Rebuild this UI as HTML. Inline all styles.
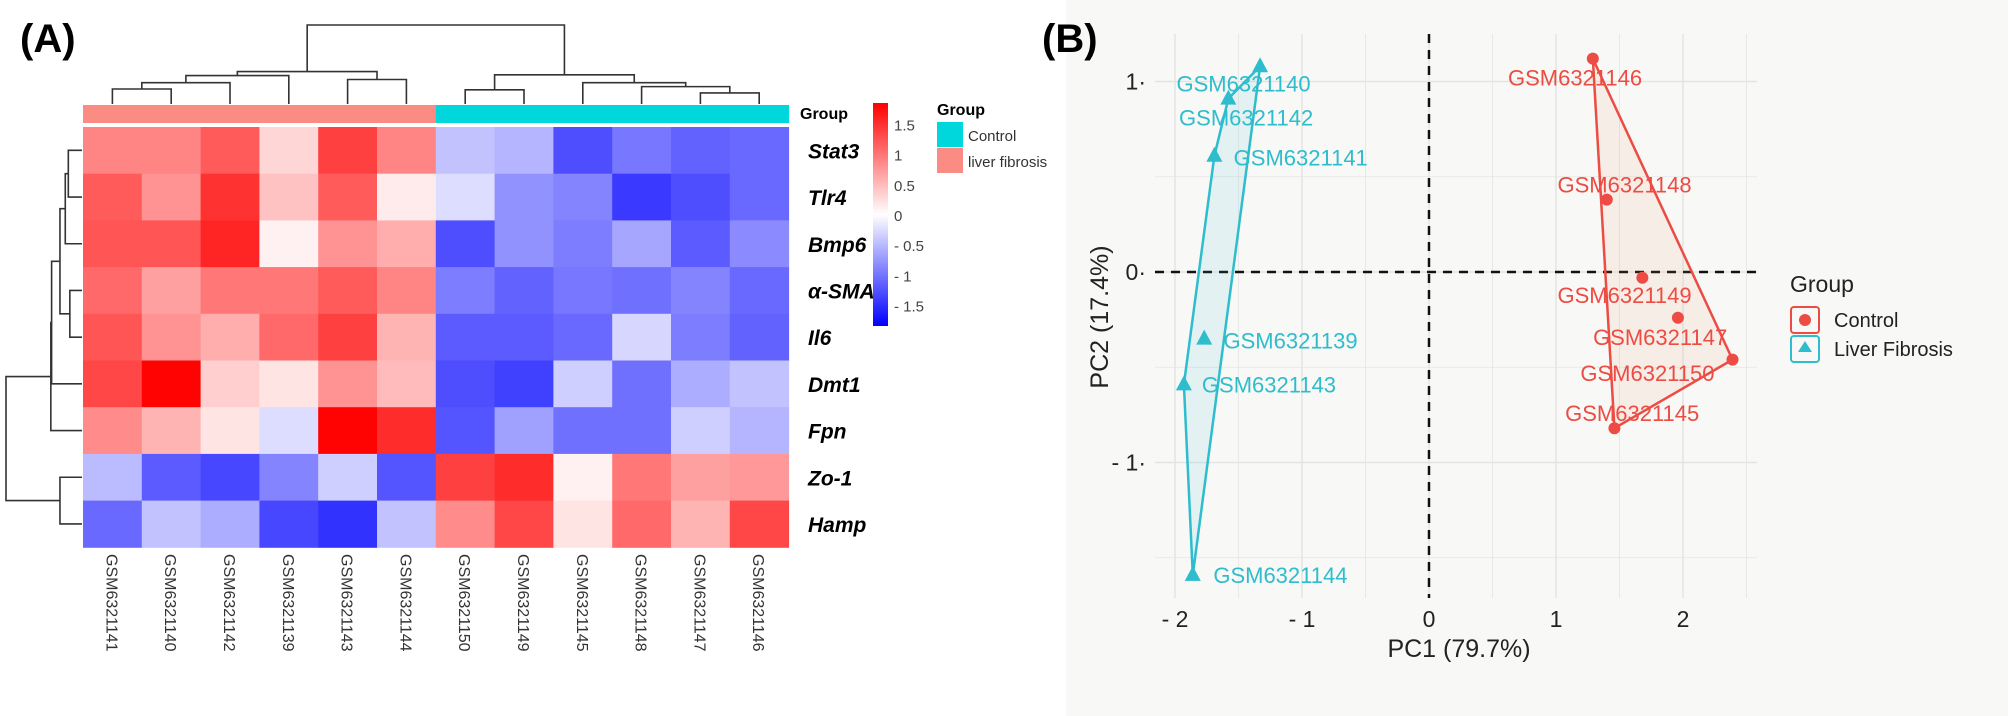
<!DOCTYPE html>
<html><head><meta charset="utf-8"><style>
html,body{margin:0;padding:0;background:#fff;width:2008px;height:716px;overflow:hidden}
svg{display:block;font-family:"Liberation Sans",sans-serif}
</style></head><body>
<svg id="fig" width="2008" height="716" viewBox="0 0 2008 716" xmlns="http://www.w3.org/2000/svg">
<rect x="1066" y="0" width="942" height="716" fill="#f8f8f6"/>
<text x="20" y="52" font-size="40" font-weight="bold">(A)</text>
<text x="1042" y="52" font-size="40" font-weight="bold">(B)</text>
<g id="heat"></g>
<g id="pca"></g>
</svg>
<script>
// ===== Heatmap data =====
const genes = ["Stat3","Tlr4","Bmp6","α-SMA","Il6","Dmt1","Fpn","Zo-1","Hamp"];
const samples = ["GSM6321141","GSM6321140","GSM6321142","GSM6321139","GSM6321143","GSM6321144","GSM6321150","GSM6321149","GSM6321145","GSM6321148","GSM6321147","GSM6321146"];
const sampleGroup = ["liver fibrosis","liver fibrosis","liver fibrosis","liver fibrosis","liver fibrosis","liver fibrosis","Control","Control","Control","Control","Control","Control"];
const rowStat3 = [0.9,0.9,1.2,0.3,1.4,0.9,-0.45,-0.55,-1.3,-1.0,-1.15,-1.1];
const rowTlr4  = [1.2,0.8,1.5,0.45,1.2,0.15,-0.25,-0.8,-0.9,-1.45,-1.3,-1.1];
const rowBmp6  = [1.25,1.25,1.6,0.1,0.8,0.6,-1.3,-0.8,-0.95,-0.65,-1.2,-0.85];
const rowSMA   = [1.1,0.7,1.0,1.0,1.2,0.9,-0.95,-1.15,-1.0,-1.05,-0.9,-1.1];
const rowIl6   = [1.25,0.8,0.6,1.1,1.4,0.55,-1.2,-1.2,-1.1,-0.3,-0.95,-1.15];
const rowDmt1  = [1.35,1.85,0.35,0.2,0.8,0.5,-1.3,-1.4,-0.35,-1.05,-0.6,-0.45];
const rowFpn   = [0.85,0.55,0.2,-0.25,1.85,1.55,-1.25,-0.7,-1.05,-1.05,-0.35,-0.55];
const rowZo1   = [-0.5,-1.2,-1.35,-0.9,-0.35,-1.25,1.4,1.55,0.1,1.0,0.7,0.75];
const rowHamp  = [-1.1,-0.45,-0.6,-1.35,-1.5,-0.45,0.85,1.35,0.2,1.1,0.55,1.35];
const colorTicks = [1.5,1,0.5,0,-0.5,-1,-1.5];
// column dendrogram merges: [left node, right node, height(0..1)]; leaves 0..11, internal 12+
const colMerges = [[0,1,0.19],[12,2,0.27],[10,11,0.14],[9,14,0.22],[8,15,0.27],[6,7,0.18],[17,16,0.37],[4,5,0.31],[13,3,0.36],[20,19,0.41],[21,18,1.0]];
// row dendrogram merges
const rowMerges = [[0,1,0.18],[9,2,0.22],[3,4,0.16],[10,11,0.29],[12,5,0.40],[13,6,0.41],[7,8,0.29],[14,15,1.0]];

const NS="http://www.w3.org/2000/svg";
function mk(tag,attrs,parent){const e=document.createElementNS(NS,tag);for(const k in attrs)e.setAttribute(k,attrs[k]);parent.appendChild(e);return e;}
const heat=document.getElementById('heat');
const hmX0=83, hmY0=127, cellW=58.8, cellH=46.7;
const rows=[rowStat3,rowTlr4,rowBmp6,rowSMA,rowIl6,rowDmt1,rowFpn,rowZo1,rowHamp];
const vmax=1.87;
function col(v){let t=Math.min(1,Math.abs(v)/vmax);let c=Math.round(255*(1-t));return v>=0?`rgb(255,${c},${c})`:`rgb(${c},${c},255)`;}
const cx=i=>hmX0+cellW*(i+0.5), cy=j=>hmY0+cellH*(j+0.5);
rows.forEach((r,j)=>r.forEach((v,i)=>{
  const e=mk('rect',{x:hmX0+cellW*i,y:hmY0+cellH*j,width:cellW+0.5,height:cellH+0.5,fill:col(v)},heat);
  
  
}));
// group bar
sampleGroup.forEach((g,i)=>{
  const e=mk('rect',{x:hmX0+cellW*i,y:105,width:cellW+0.5,height:18,fill:g==="Control"?"#00d7dc":"#fa8c84"},heat);
  
  
});
let t=mk('text',{x:800,y:119,'font-size':16,'font-weight':'bold'},heat);t.textContent="Group";


genes.forEach((g,j)=>{
  const e=mk('text',{x:808,y:cy(j)+8,'font-size':21,'font-weight':'bold','font-style':'italic'},heat);e.textContent=g;
  
  
});
samples.forEach((s,i)=>{
  const e=mk('text',{x:0,y:0,'font-size':16,fill:'#333',transform:`translate(${cx(i)-6},554) rotate(90)`},heat);e.textContent=s;
  
  
});
// dendrograms
function dendro(merges,nLeaves,pos,base,span,horiz){
  const p=[],h=[];for(let i=0;i<nLeaves;i++){p.push(pos(i));h.push(0);}
  merges.forEach(m=>{
    const a=m[0],b=m[1],hh=m[2];
    const ha=base-span*h[a], hb=base-span*h[b], hm=base-span*hh;
    const d=horiz?`M${ha},${p[a]}H${hm}V${p[b]}H${hb}`:`M${p[a]},${ha}V${hm}H${p[b]}V${hb}`;
    const e=mk('path',{d,fill:'none',stroke:'#333','stroke-width':1.6},heat);
    
    
    p.push((p[a]+p[b])/2);h.push(hh);
  });
}
dendro(colMerges,12,cx,104,79,false);
dendro(rowMerges,9,cy,82,76,true);
// colorbar
const defs=mk('defs',{},heat);
const lg=mk('linearGradient',{id:'cb',x1:0,y1:0,x2:0,y2:1},defs);
[[0,'#ff0000'],[0.5,'#ffffff'],[1,'#0000ff']].forEach(s=>mk('stop',{offset:s[0],'stop-color':s[1]},lg));
let cb=mk('rect',{x:873,y:103,width:15,height:223,fill:'url(#cb)'},heat);


colorTicks.forEach(v=>{
  const e=mk('text',{x:894,y:216-60.3*v+5,'font-size':15,fill:'#444'},heat);e.textContent=(v<0?'- '+(-v):''+v);
  
  
});
t=mk('text',{x:937,y:115,'font-size':16,'font-weight':'bold'},heat);t.textContent="Group";


[["Control","#00d7dc",122],["liver fibrosis","#fa8c84",148]].forEach(l=>{
  const r=mk('rect',{x:937,y:l[2],width:26,height:25,fill:l[1]},heat);
  
  
  const e=mk('text',{x:968,y:l[2]+19,'font-size':15,fill:'#333'},heat);e.textContent=l[0];
  
  
});

// ===== PCA data =====
const fibNames=["GSM6321140","GSM6321142","GSM6321141","GSM6321139","GSM6321143","GSM6321144"];
const fibPC1=[-1.33,-1.58,-1.69,-1.77,-1.93,-1.86];
const fibPC2=[1.08,0.91,0.61,-0.35,-0.59,-1.59];
const fibLabPC1=[-1.46,-1.44,-1.01,-1.09,-1.26,-1.17];
const fibLabPC2=[0.99,0.81,0.60,-0.36,-0.59,-1.59];
const ctlNames=["GSM6321146","GSM6321148","GSM6321149","GSM6321147","GSM6321150","GSM6321145"];
const ctlPC1=[1.29,1.40,1.68,1.96,2.39,1.46];
const ctlPC2=[1.12,0.38,-0.03,-0.24,-0.46,-0.82];
const ctlLabPC1=[1.15,1.54,1.54,1.82,1.72,1.60];
const ctlLabPC2=[1.02,0.46,-0.12,-0.34,-0.53,-0.74];
const xTicks=[-2,-1,0,1,2];
const yTicks=[1,0,-1];

const pca=document.getElementById('pca');
const X=v=>1429+127*v, Y=v=>272-190.5*v;
const pl={x0:1155,x1:1757,y0:34,y1:598};
for(let v=-2;v<=2.5;v+=0.5){const e=mk('line',{x1:X(v),x2:X(v),y1:pl.y0,y2:pl.y1,stroke:'#e4e4e4','stroke-width':Number.isInteger(v)?1.5:0.8},pca);
  
  }
for(let v=-1.5;v<=1.5;v+=0.5){const e=mk('line',{x1:pl.x0,x2:pl.x1,y1:Y(v),y2:Y(v),stroke:'#e4e4e4','stroke-width':Number.isInteger(v)?1.5:0.8},pca);
  
  }
function hull(xs,ys){const pts=xs.map((x,i)=>[x,ys[i]]).sort((a,b)=>a[0]-b[0]||a[1]-b[1]);
  const cr=(o,a,b)=>(a[0]-o[0])*(b[1]-o[1])-(a[1]-o[1])*(b[0]-o[0]);
  const lo=[],up=[];for(const p of pts){while(lo.length>=2&&cr(lo[lo.length-2],lo[lo.length-1],p)<=0)lo.pop();lo.push(p);}
  for(const p of pts.slice().reverse()){while(up.length>=2&&cr(up[up.length-2],up[up.length-1],p)<=0)up.pop();up.push(p);}
  return lo.slice(0,-1).concat(up.slice(0,-1));}
function drawGroup(px,py,lx,ly,names,color,fill,tri,gname){
  const h=hull(px,py);
  const poly=mk('polygon',{points:h.map(p=>X(p[0])+','+Y(p[1])).join(' '),fill:fill,stroke:color,'stroke-width':2.5,'stroke-linejoin':'round'},pca);
  
  
  px.forEach((x,i)=>{
    const sx=X(x),sy=Y(py[i]);
    const m=tri?mk('polygon',{points:`${sx},${sy-9} ${sx-8},${sy+6} ${sx+8},${sy+6}`,fill:color},pca):mk('circle',{cx:sx,cy:sy,r:6,fill:color},pca);
    
    
    const e=mk('text',{x:X(lx[i]),y:Y(ly[i])+8,'font-size':22,'text-anchor':'middle',fill:color},pca);e.textContent=names[i];
    
    
  });
}
// dashed zero lines
let z=mk('line',{x1:X(0),x2:X(0),y1:pl.y0,y2:pl.y1,stroke:'#111','stroke-width':2.5,'stroke-dasharray':'9,7'},pca);


z=mk('line',{x1:pl.x0,x2:pl.x1,y1:Y(0),y2:Y(0),stroke:'#111','stroke-width':2.5,'stroke-dasharray':'9,7'},pca);


drawGroup(fibPC1,fibPC2,fibLabPC1,fibLabPC2,fibNames,'#2dbdcc','rgba(45,189,204,0.10)',true,'liver-fibrosis');
drawGroup(ctlPC1,ctlPC2,ctlLabPC1,ctlLabPC2,ctlNames,'#ec4c43','rgba(248,150,100,0.10)',false,'control');
xTicks.forEach(v=>{const e=mk('text',{x:X(v),y:627,'font-size':23,'text-anchor':'middle',fill:'#222'},pca);e.textContent=v<0?'- '+(-v):''+v;
  
  });
yTicks.forEach(v=>{const e=mk('text',{x:1146,y:Y(v)+8,'font-size':23,'text-anchor':'end',fill:'#222'},pca);e.textContent=(v<0?'- '+(-v):''+v)+'·';
  
  });
t=mk('text',{x:1459,y:657,'font-size':25,'text-anchor':'middle',fill:'#222'},pca);t.textContent="PC1 (79.7%)";


t=mk('text',{x:0,y:0,'font-size':25,'text-anchor':'middle',fill:'#222',transform:'translate(1108,317) rotate(-90)'},pca);t.textContent="PC2 (17.4%)";


t=mk('text',{x:1790,y:292,'font-size':23,fill:'#222'},pca);t.textContent="Group";


[["Control","#ec4c43",307,false],["Liver Fibrosis","#2dbdcc",336,true]].forEach(l=>{
  const r=mk('rect',{x:1791,y:l[2],width:28,height:26,rx:3,fill:'none',stroke:l[1],'stroke-width':2},pca);
  
  
  const c=l[3]?mk('polygon',{points:`1805,${l[2]+5} 1798,${l[2]+16} 1812,${l[2]+16}`,fill:l[1]},pca):mk('circle',{cx:1805,cy:l[2]+13,r:6,fill:l[1]},pca);
  
  
  const e=mk('text',{x:1834,y:l[2]+20,'font-size':20,fill:'#222'},pca);e.textContent=l[0];
  
  
});
</script>
</body></html>
